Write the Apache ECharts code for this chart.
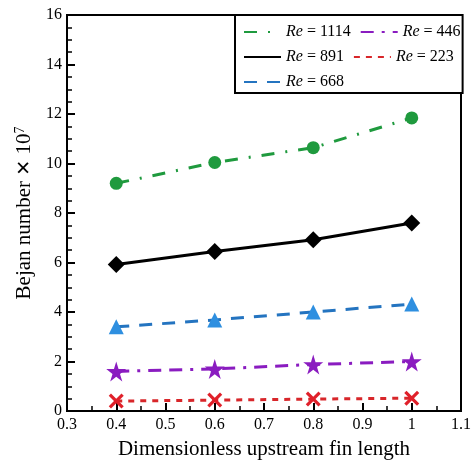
<!DOCTYPE html>
<html><head><meta charset="utf-8">
<script src="https://cdn.jsdelivr.net/npm/echarts@6/dist/echarts.min.js"></script>
<style>html,body{margin:0;padding:0;background:#fff}#c{width:474px;height:465px}</style>
</head><body><div id="c"></div>
<script>
const finLength = [0.4, 0.6, 0.8, 1.0];
const re1114 = [9.2, 10.04, 10.64, 11.84];
const re891 = [5.92, 6.44, 6.92, 7.6];
const re668 = [3.4, 3.68, 4.0, 4.32];
const re446 = [1.6, 1.7, 1.88, 2.0];
const re223 = [0.4, 0.44, 0.48, 0.52];
const legendNames = ['Re = 1114', 'Re = 446', 'Re = 891', 'Re = 223', 'Re = 668'];

const font = 'Liberation Serif';
const xPath = 'path://M0,3 L3,0 L10,7 L17,0 L20,3 L13,10 L20,17 L17,20 L10,13 L3,20 L0,17 L7,10 Z';
const pairs = (ys) => finLength.map((x, i) => [x, ys[i]]);

const defs = [
  {name: 'Re = 1114', data: re1114, color: '#1f9a3e', mcolor: '#1f9a3e', dash: [13, 11, 2, 11], symbol: 'circle', size: 13},
  {name: 'Re = 891', data: re891, color: '#000000', mcolor: '#000000', dash: 'solid', symbol: 'diamond', size: 17},
  {name: 'Re = 668', data: re668, color: '#2474c0', mcolor: '#2e8fe0', dash: [13, 10], symbol: 'triangle', size: 15},
  {name: 'Re = 446', data: re446, color: '#8a1cc0', mcolor: '#8a1cc0', dash: [13, 8, 3, 8, 13, 8], symbol: 'path://M50,0 L61,35 L98,35 L68,57 L79,91 L50,70 L21,91 L32,57 L2,35 L39,35 Z', size: 20},
  {name: 'Re = 223', data: re223, color: '#d8262a', mcolor: '#e0202a', dash: [6, 6], symbol: xPath, size: 15}
];

const series = [];
defs.forEach(d => {
  series.push({
    name: d.name, type: 'line', data: pairs(d.data), symbol: 'none',
    lineStyle: {color: d.color, width: 3, type: d.dash},
    itemStyle: {color: d.color}, z: 2
  });
});
defs.forEach(d => {
  series.push({
    name: d.name + ' marker', type: 'scatter', data: pairs(d.data),
    symbol: d.symbol, symbolSize: d.size,
    itemStyle: {color: d.mcolor, opacity: 1}, z: 3
  });
});

const chart = echarts.init(document.getElementById('c'), null, {renderer: 'canvas'});
chart.setOption({
  animation: false,
  backgroundColor: '#fff',
  grid: {left: 67, right: 7, top: 15, bottom: 51, show: true, borderColor: '#000', borderWidth: 2},
  legend: {
    data: legendNames,
    left: 235, top: 15, width: 222,
    orient: 'horizontal',
    padding: [9, 2, 3, 8],
    itemGap: 9, itemWidth: 37, itemHeight: 13,
    borderColor: '#000', borderWidth: 2, backgroundColor: '#fff',
    itemStyle: {opacity: 0},
    formatter: n => '{i|Re}' + n.slice(2),
    textStyle: {fontFamily: font, fontSize: 16, color: '#000', width: 64,
      rich: {i: {fontFamily: font, fontStyle: 'italic', fontSize: 16, color: '#000'}}}
  },
  xAxis: {
    type: 'value', min: 0.3, max: 1.1, interval: 0.1,
    name: 'Dimensionless upstream fin length', nameLocation: 'middle', nameGap: 28,
    nameTextStyle: {fontFamily: font, fontSize: 21, color: '#000'},
    axisLine: {lineStyle: {color: '#000', width: 2}},
    axisTick: {inside: true, length: 8, lineStyle: {color: '#000', width: 2}},
    minorTick: {show: true, splitNumber: 2, length: 5, lineStyle: {color: '#000', width: 1.5}},
    splitLine: {show: false},
    axisLabel: {fontFamily: font, fontSize: 16, color: '#000', margin: 6,
      formatter: v => String(Math.round(v * 10) / 10)}
  },
  yAxis: {
    type: 'value', min: 0, max: 16, interval: 2,
    name: 'Bejan number {x|\u2715} 10{s|7}', nameLocation: 'middle', nameGap: 30,
    nameTextStyle: {fontFamily: font, fontSize: 21, color: '#000',
      rich: {
        x: {fontFamily: 'DejaVu Sans', fontSize: 19, color: '#000'},
        s: {fontFamily: font, fontSize: 14, color: '#000', verticalAlign: 'top', padding: [0, 0, 9, 0]}
      }},
    axisLine: {lineStyle: {color: '#000', width: 2}},
    axisTick: {inside: true, length: 8, lineStyle: {color: '#000', width: 2}},
    minorTick: {show: true, splitNumber: 4, length: 5, lineStyle: {color: '#000', width: 1.5}},
    splitLine: {show: false},
    axisLabel: {fontFamily: font, fontSize: 16, color: '#000', margin: 5}
  },
  series: series
});
</script></body></html>
